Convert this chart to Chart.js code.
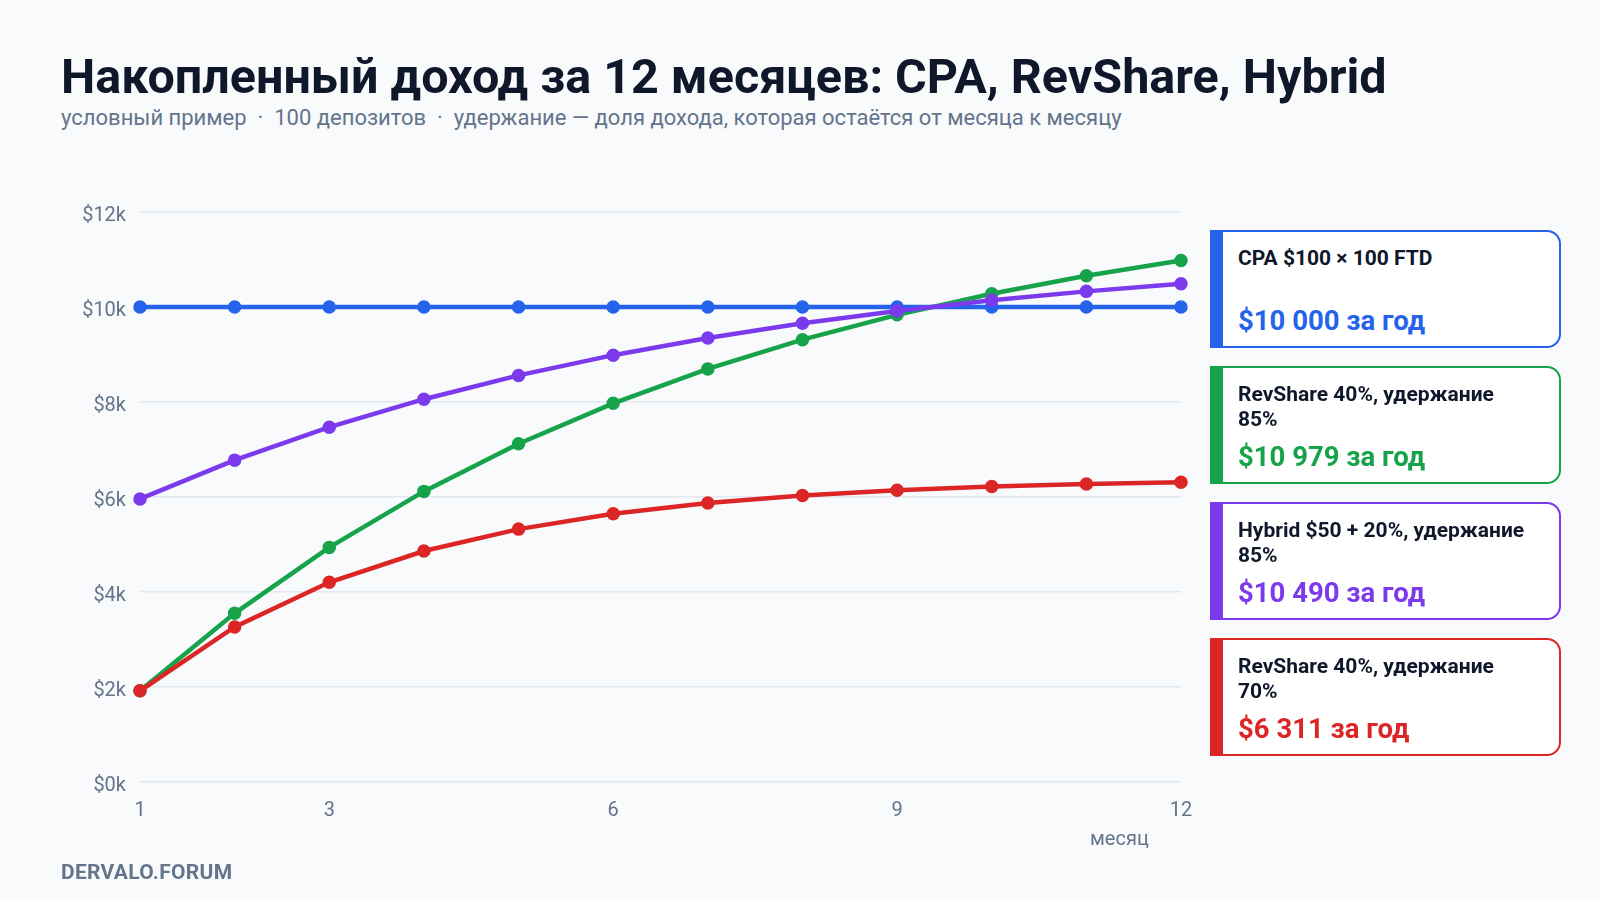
<!DOCTYPE html>
<html lang="ru">
<head>
<meta charset="utf-8">
<title>Накопленный доход за 12 месяцев</title>
<script src="https://cdn.jsdelivr.net/npm/chart.js@4.4.1/dist/chart.umd.min.js"></script>
<style>
  html, body { margin: 0; padding: 0; }
  body {
    width: 1600px; height: 900px; position: relative; overflow: hidden;
    background: #f8fafc; font-family: Roboto, "Noto Sans", sans-serif;
  }
  #chartBox { position: absolute; left: 0; top: 0; width: 1600px; height: 900px; }
  .title {
    position: absolute; left: 61px; top: 48px; margin: 0;
    font-size: 48.5px; font-weight: 700; color: #0f172a; white-space: nowrap;
  }
  .subtitle {
    position: absolute; left: 61px; top: 105px;
    font-size: 22px; color: #64748b; white-space: pre;
  }
  .axisTitle {
    position: absolute; left: 1090px; top: 826px;
    font-size: 20px; color: #64748b;
  }
  .footer {
    position: absolute; left: 61px; top: 860px;
    font-size: 21px; font-weight: 700; color: #64748b; letter-spacing: 0.3px;
  }
  .card {
    position: absolute; left: 1210px; width: 336px; height: 114px;
    background: #ffffff; border: 2px solid; border-left-width: 13px;
    border-radius: 0 14px 14px 0;
  }
  .card .name {
    position: absolute; left: 15px; top: 14px;
    font-size: 21px; line-height: 25px; font-weight: 700; color: #0f172a;
    white-space: nowrap;
  }
  .card .total {
    position: absolute; left: 15px; top: 73px;
    font-size: 27.5px; line-height: 32px; font-weight: 700; white-space: nowrap;
  }
</style>
</head>
<body>
<div class="title">Накопленный доход за 12 месяцев: CPA, RevShare, Hybrid</div>
<div class="subtitle">условный пример  ·  100 депозитов  ·  удержание — доля дохода, которая остаётся от месяца к месяцу</div>
<div id="chartBox"><canvas id="incomeChart"></canvas></div>
<div class="axisTitle">месяц</div>
<div class="footer">DERVALO.FORUM</div>
<div id="legend"></div>

<script>
// Данные графика
const months = [1, 2, 3, 4, 5, 6, 7, 8, 9, 10, 11, 12];
const cpaValues = [10000, 10000, 10000, 10000, 10000, 10000, 10000, 10000, 10000, 10000, 10000, 10000];
const rev85Values = [1920, 3552, 4939, 6118, 7121, 7972, 8697, 9312, 9835, 10280, 10658, 10979];
const hybridValues = [5960, 6776, 7470, 8059, 8560, 8986, 9348, 9656, 9918, 10140, 10329, 10490];
const rev70Values = [1920, 3264, 4205, 4863, 5324, 5647, 5873, 6031, 6142, 6219, 6273, 6311];

const xTickValues = [1, 3, 6, 9, 12];
const yMax = 12000;
const yStep = 2000;

// Подписи и цвета серий (порядок как в легенде)
const seriesNames = [
  ['CPA $100 × 100 FTD'],
  ['RevShare 40%, удержание', '85%'],
  ['Hybrid $50 + 20%, удержание', '85%'],
  ['RevShare 40%, удержание', '70%']
];
const seriesTotals = ['$10 000 за год', '$10 979 за год', '$10 490 за год', '$6 311 за год'];
const seriesColors = ['#2563eb', '#16a34a', '#7c3aed', '#dc2626'];
const seriesValues = [cpaValues, rev85Values, hybridValues, rev70Values];

const axisColor = '#64748b';
const gridColor = '#e2e8f0';

// последняя серия рисуется поверх остальных
const datasets = seriesValues.map(function (values, i) {
  return {
    label: seriesNames[i].join(' '),
    data: values.map(function (v, j) { return { x: months[j], y: v }; }),
    borderColor: seriesColors[i],
    backgroundColor: seriesColors[i],
    borderWidth: 4.5,
    pointRadius: 4.5,
    pointHoverRadius: 4.5,
    tension: 0,
    fill: false,
    clip: false,
    order: seriesValues.length - 1 - i
  };
});

const incomeChart = new Chart(document.getElementById('incomeChart'), {
  type: 'line',
  data: { datasets: datasets },
  options: {
    responsive: true,
    maintainAspectRatio: false,
    animation: false,
    layout: { padding: { left: 40, right: 419, top: 212, bottom: 58 } },
    plugins: {
      legend: { display: false },
      tooltip: { enabled: false }
    },
    scales: {
      x: {
        type: 'linear',
        min: 1,
        max: 12,
        border: { display: false },
        grid: { display: false, drawTicks: false },
        afterBuildTicks: function (scale) {
          scale.ticks = xTickValues.map(function (v) { return { value: v }; });
        },
        afterFit: function (scale) { scale.height = 60; },
        ticks: {
          color: axisColor,
          padding: 17,
          maxRotation: 0,
          font: { family: 'Roboto', size: 20 }
        }
      },
      y: {
        min: 0,
        max: yMax,
        border: { display: false },
        grid: { color: gridColor, lineWidth: 1.5, drawTicks: false },
        afterFit: function (scale) { scale.width = 100; },
        ticks: {
          stepSize: yStep,
          color: axisColor,
          padding: 14,
          labelOffset: 4,
          font: { family: 'Roboto', size: 20 },
          callback: function (v) { return '$' + (v / 1000) + 'k'; }
        }
      }
    }
  }
});

// Карточки легенды справа
const legendBox = document.getElementById('legend');
seriesNames.forEach(function (lines, i) {
  const card = document.createElement('div');
  card.className = 'card';
  card.style.top = (230 + i * 136) + 'px';
  card.style.borderColor = seriesColors[i];
  card.innerHTML = '<div class="name">' + lines.join('<br>') + '</div>' +
    '<div class="total" style="color:' + seriesColors[i] + '">' + seriesTotals[i] + '</div>';
  legendBox.appendChild(card);
});
</script>
</body>
</html>
